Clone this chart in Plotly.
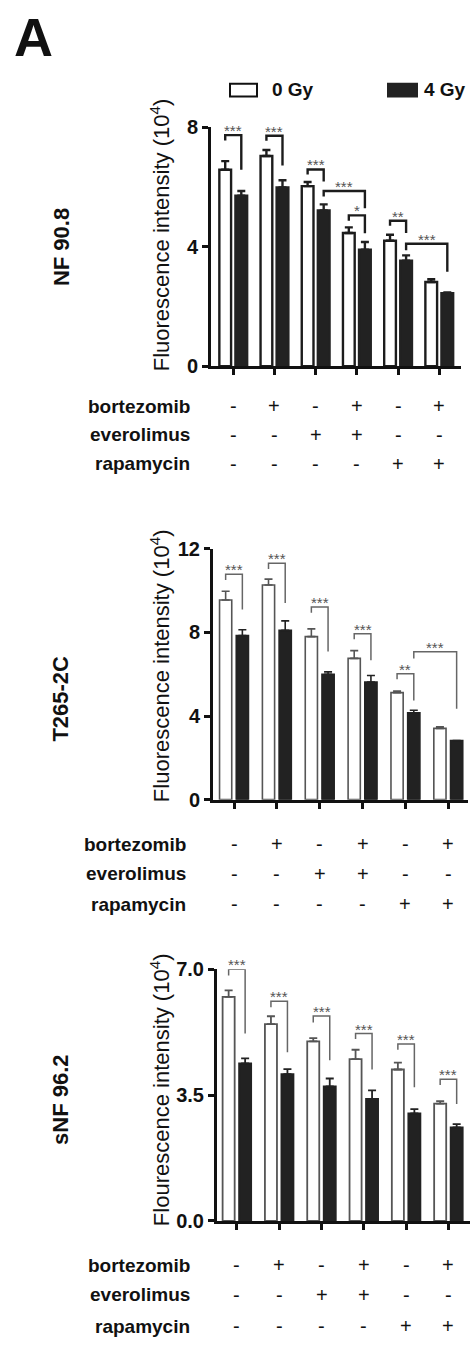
import plotly.graph_objects as go

W, H = 476, 1351

# ---------------- data ----------------
groups = [0, 1, 2, 3, 4, 5]
row_labels = ["bortezomib", "everolimus", "rapamycin"]
bortezomib = ["-", "+", "-", "+", "-", "+"]
everolimus = ["-", "-", "+", "+", "-", "-"]
rapamycin = ["-", "-", "-", "-", "+", "+"]
cell_lines = ["NF 90.8", "T265-2C", "sNF 96.2"]
y_titles = ["Fluorescence intensity (10<sup>4</sup>)",
            "Fluorescence intensity (10<sup>4</sup>)",
            "Flourescence intensity (10<sup>4</sup>)"]
series_names = ["0 Gy", "4 Gy"]

nf_0gy = [6.58, 7.04, 6.03, 4.46, 4.20, 2.82]
nf_0gy_err = [0.29, 0.20, 0.14, 0.19, 0.20, 0.09]
nf_4gy = [5.71, 5.99, 5.22, 3.90, 3.53, 2.44]
nf_4gy_err = [0.16, 0.24, 0.20, 0.26, 0.18, 0.03]

t_0gy = [9.55, 10.27, 7.80, 6.76, 5.12, 3.41]
t_0gy_err = [0.42, 0.28, 0.37, 0.37, 0.08, 0.07]
t_4gy = [7.85, 8.10, 6.00, 5.63, 4.15, 2.83]
t_4gy_err = [0.28, 0.45, 0.11, 0.31, 0.13, 0.00]

s_0gy = [6.23, 5.47, 4.99, 4.50, 4.21, 3.26]
s_0gy_err = [0.18, 0.22, 0.09, 0.26, 0.19, 0.07]
s_4gy = [4.38, 4.08, 3.74, 3.39, 2.99, 2.60]
s_4gy_err = [0.14, 0.14, 0.22, 0.24, 0.12, 0.09]

y_tickvals = [[0, 4, 8], [0, 4, 8, 12], [0, 3.5, 7.0]]
y_ticktext = [["0", "4", "8"], ["0", "4", "8", "12"], ["0.0", "3.5", "7.0"]]

# significance brackets: (group_a, bar_a, group_b, bar_b, top, left_bottom, right_bottom, label)
nf_sig = [(0, 0, 0, 1, 7.74, 7.56, 6.58, "***"),
          (1, 0, 1, 1, 7.72, 7.55, 6.72, "***"),
          (2, 0, 2, 1, 6.59, 6.42, 6.19, "***"),
          (2, 1, 3, 1, 5.87, 5.68, 5.29, "***"),
          (3, 0, 3, 1, 5.05, 4.87, 4.45, "*"),
          (4, 0, 4, 1, 4.87, 4.70, 4.46, "**"),
          (4, 1, 5, 1, 4.10, 3.88, 3.16, "***")]
t_sig = [(0, 0, 0, 1, 10.78, 10.51, 9.10, "***"),
         (1, 0, 1, 1, 11.31, 11.03, 9.41, "***"),
         (2, 0, 2, 1, 9.21, 8.94, 7.09, "***"),
         (3, 0, 3, 1, 7.94, 7.67, 6.67, "***"),
         (4, 0, 4, 1, 6.02, 5.76, 4.74, "**"),
         (4, 1, 5, 1, 7.07, 6.75, 4.35, "***")]
s_sig = [(0, 0, 0, 1, 7.00, 6.82, 5.21, "***"),
         (1, 0, 1, 1, 6.11, 5.94, 4.69, "***"),
         (2, 0, 2, 1, 5.70, 5.52, 4.47, "***"),
         (3, 0, 3, 1, 5.21, 5.06, 4.21, "***"),
         (4, 0, 4, 1, 4.92, 4.76, 3.72, "***"),
         (5, 0, 5, 1, 3.94, 3.78, 3.25, "***")]

# ---------------- layout constants ----------------
BARGAP = 0.22
BARGROUPGAP = 0.27
HALF = (1 - BARGAP) / 4.0  # bar-centre offset from group centre

def px(x):
    return x / W

def py(y):
    return 1 - y / H

panels = [
    dict(white=nf_0gy, werr=nf_0gy_err, black=nf_4gy, berr=nf_4gy_err, sig=nf_sig,
         xdom=(211, 460.7), ytop=118.3, ybot=361, xr=[-0.54, 5.52], yr=[0, 8],
         thick=2.4, wline="#1c1c1c", sigc="#1c1c1c", sigw=2.4,
         rows=[402, 431, 460], lab_x=192, title_y=228, cell_y=240),
    dict(white=t_0gy, werr=t_0gy_err, black=t_4gy, berr=t_4gy_err, sig=t_sig,
         xdom=(213, 468), ytop=546.7, ybot=801.7, xr=[-0.49, 5.46], yr=[0, 12],
         thick=1.6, wline="#555555", sigc="#666666", sigw=1.5,
         rows=[847, 877, 908], lab_x=188, title_y=666, cell_y=699),
    dict(white=s_0gy, werr=s_0gy_err, black=s_4gy, berr=s_4gy_err, sig=s_sig,
         xdom=(217, 470), ytop=974, ybot=1230, xr=[-0.47, 5.51], yr=[0, 7.0],
         thick=1.8, wline="#555555", sigc="#666666", sigw=1.5,
         rows=[1275, 1305, 1337], lab_x=192, title_y=1097, cell_y=1106),
]

FONT = "Liberation Sans, Arial, sans-serif"
DARK = "#222222"

fig = go.Figure()
annotations = []
shapes = []
layout_axes = {}

for i, p in enumerate(panels):
    n = i + 1
    xa = "x" if n == 1 else f"x{n}"
    ya = "y" if n == 1 else f"y{n}"
    fig.add_trace(go.Bar(
        x=groups, y=p["white"], name=series_names[0], xaxis=xa, yaxis=ya,
        marker=dict(color="white", line=dict(color=p["wline"], width=p["thick"])),
        error_y=dict(type="data", symmetric=False, array=p["werr"], arrayminus=[0] * 6,
                     color=p["wline"], thickness=p["thick"], width=4),
        offsetgroup="a", showlegend=False))
    fig.add_trace(go.Bar(
        x=groups, y=p["black"], name=series_names[1], xaxis=xa, yaxis=ya,
        marker=dict(color=DARK, line=dict(color=DARK, width=p["thick"])),
        error_y=dict(type="data", symmetric=False, array=p["berr"], arrayminus=[0] * 6,
                     color=DARK, thickness=p["thick"], width=4),
        offsetgroup="b", showlegend=False))

    # significance brackets
    bx, by = [], []
    for ga, ba, gb, bb, top, lb, rb, lab in p["sig"]:
        xa0 = ga + (HALF if ba else -HALF)
        xb0 = gb + (HALF if bb else -HALF)
        bx += [xa0, xa0, xb0, xb0, None]
        by += [lb, top, top, rb, None]
        annotations.append(dict(x=(xa0 + xb0) / 2, y=top, xref=xa, yref=ya, text=lab,
                                showarrow=False, yanchor="bottom", yshift=-6,
                                font=dict(family=FONT, size=15, color="#555555")))
    fig.add_trace(go.Scatter(x=bx, y=by, mode="lines", xaxis=xa, yaxis=ya,
                             line=dict(color=p["sigc"], width=p["sigw"]),
                             cliponaxis=False, hoverinfo="skip", showlegend=False))

    axis_common = dict(showgrid=False, zeroline=False, showline=True, linecolor="#111111",
                       linewidth=3, ticks="outside", ticklen=6, tickwidth=3,
                       tickcolor="#111111")
    layout_axes["xaxis" if n == 1 else f"xaxis{n}"] = dict(
        domain=[px(p["xdom"][0]), px(p["xdom"][1])], range=p["xr"],
        anchor=ya, tickvals=groups, showticklabels=False, fixedrange=True, **axis_common)
    layout_axes["yaxis" if n == 1 else f"yaxis{n}"] = dict(
        domain=[py(p["ybot"]), py(p["ytop"])], range=p["yr"], anchor=xa,
        tickvals=y_tickvals[i], ticktext=y_ticktext[i],
        tickfont=dict(family=FONT, size=20, color="#111111", weight="bold"),
        fixedrange=True, **axis_common)

    # y-axis title
    annotations.append(dict(x=px(160), y=py(p["title_y"]), xref="paper", yref="paper",
                            text=y_titles[i], textangle=-90, showarrow=False,
                            xanchor="center", yanchor="middle",
                            font=dict(family=FONT, size=22, color="#111111")))
    # cell line label
    annotations.append(dict(x=px(61), y=py(p["cell_y"]), xref="paper", yref="paper",
                            text=cell_lines[i], textangle=-90, showarrow=False,
                            xanchor="center", yanchor="middle",
                            font=dict(family=FONT, size=22, color="#111111", weight="bold")))
    # treatment table
    for r, (lab, signs) in enumerate(zip(row_labels, [bortezomib, everolimus, rapamycin])):
        annotations.append(dict(x=px(p["lab_x"]), y=py(p["rows"][r]), xref="paper", yref="paper",
                                text=lab, showarrow=False, xanchor="right", yanchor="middle",
                                font=dict(family=FONT, size=19, color="#111111", weight="bold")))
        for g, s in zip(groups, signs):
            annotations.append(dict(x=g, y=py(p["rows"][r]), xref=xa, yref="paper",
                                    text=s, showarrow=False, xanchor="center", yanchor="middle",
                                    font=dict(family=FONT, size=20, color="#111111")))

# panel letter
annotations.append(dict(x=px(12), y=py(26), xref="paper", yref="paper", text="A",
                        showarrow=False, xanchor="left", yanchor="middle",
                        font=dict(family=FONT, size=54, color="#111111", weight="bold")))
# legend
shapes.append(dict(type="rect", xref="paper", yref="paper", x0=px(230), x1=px(257),
                   y0=py(87), y1=py(74), fillcolor="white", line=dict(color="#111111", width=2)))
shapes.append(dict(type="rect", xref="paper", yref="paper", x0=px(388), x1=px(417),
                   y0=py(87), y1=py(74), fillcolor=DARK, line=dict(color=DARK, width=2)))
annotations.append(dict(x=px(270), y=py(80), xref="paper", yref="paper", text=series_names[0],
                        showarrow=False, xanchor="left", yanchor="middle",
                        font=dict(family=FONT, size=19, color="#111111", weight="bold")))
annotations.append(dict(x=px(422), y=py(80), xref="paper", yref="paper", text=series_names[1],
                        showarrow=False, xanchor="left", yanchor="middle",
                        font=dict(family=FONT, size=19, color="#111111", weight="bold")))

fig.update_layout(
    width=W, height=H, margin=dict(l=0, r=0, t=0, b=0),
    paper_bgcolor="white", plot_bgcolor="white",
    barmode="group", bargap=BARGAP, bargroupgap=BARGROUPGAP,
    showlegend=False, annotations=annotations, shapes=shapes,
    **layout_axes)

fig.write_html("out.html", config={"displayModeBar": False},
               post_script="document.body.style.margin='0';document.body.style.overflow='hidden';")
